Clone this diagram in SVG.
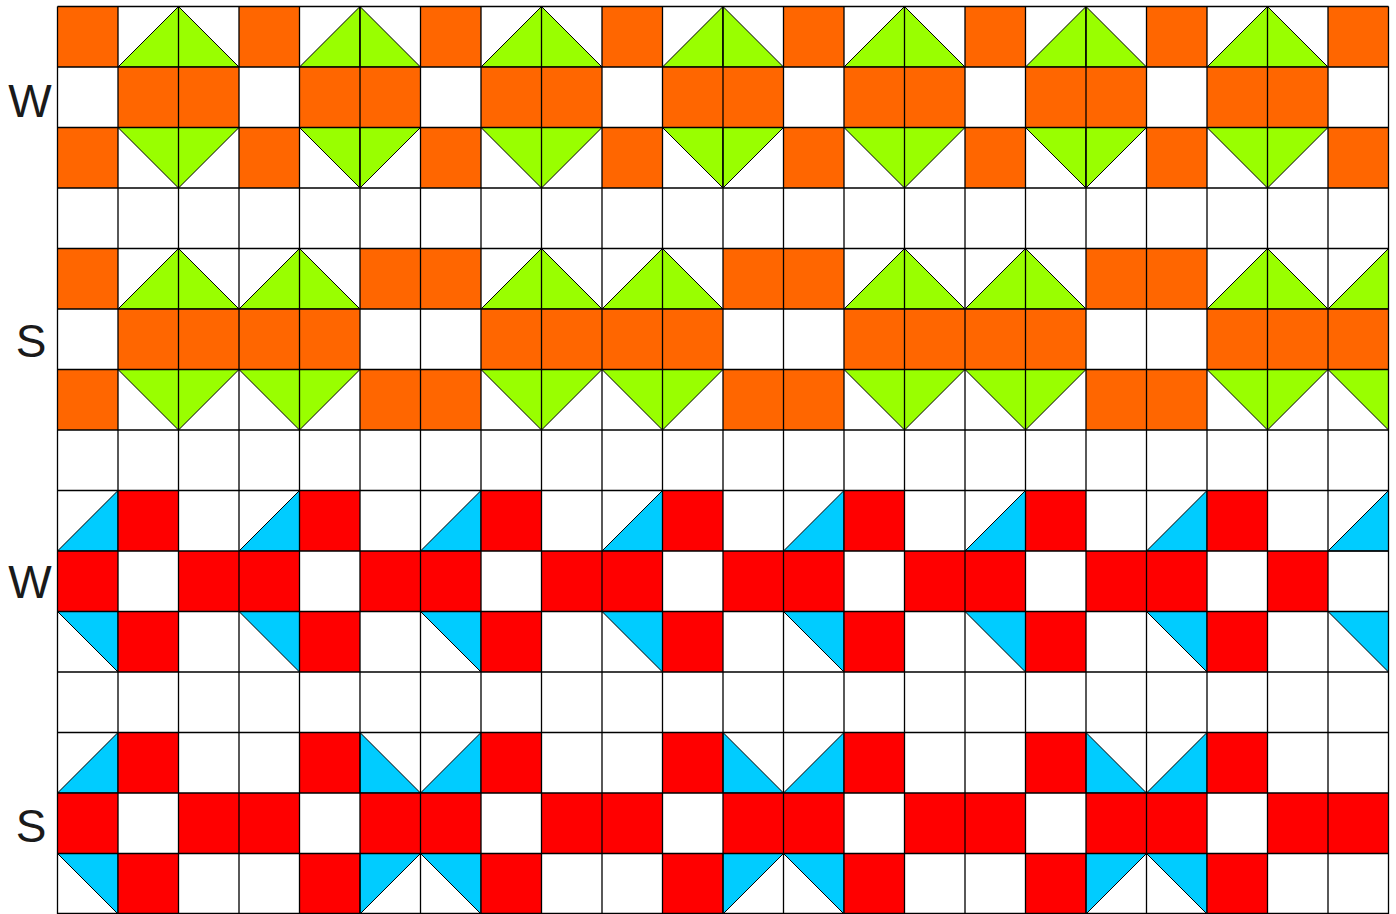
<svg xmlns="http://www.w3.org/2000/svg" xmlns:xlink="http://www.w3.org/1999/xlink" width="1396" height="914" viewBox="0 0 1396 914">
<style>
.o{fill:#FF6600}
.g{fill:#99FF00;stroke:#000;stroke-width:1}
.r{fill:#FF0000}
.b{fill:#00CCFF;stroke:#000;stroke-width:1}
.lbl{font-family:"Liberation Sans",Arial,sans-serif;font-size:46px;fill:#1a1a1a;text-anchor:middle}
.grid{fill:none;stroke:#000;stroke-width:1.3}
</style>
<defs>
<g id="A0"><rect class="o" x="0" y="0" width="60.5" height="60.5"/><rect class="o" x="0" y="121" width="60.5" height="60.5"/></g>
<g id="A1"><polygon class="g" points="0,60.5 60.5,0 60.5,60.5"/><rect class="o" x="0" y="60.5" width="60.5" height="60.5"/><polygon class="g" points="0,121 60.5,121 60.5,181.5"/></g>
<g id="A2"><polygon class="g" points="0,0 0,60.5 60.5,60.5"/><rect class="o" x="0" y="60.5" width="60.5" height="60.5"/><polygon class="g" points="0,121 60.5,121 0,181.5"/></g>
<g id="B0"><polygon class="b" points="0,60.5 60.5,0 60.5,60.5"/><rect class="r" x="0" y="60.5" width="60.5" height="60.5"/><polygon class="b" points="0,121 60.5,121 60.5,181.5"/></g>
<g id="B1"><rect class="r" x="0" y="0" width="60.5" height="60.5"/><rect class="r" x="0" y="121" width="60.5" height="60.5"/></g>
<g id="B2"><rect class="r" x="0" y="60.5" width="60.5" height="60.5"/></g>
<g id="B5"><polygon class="b" points="0,0 0,60.5 60.5,60.5"/><rect class="r" x="0" y="60.5" width="60.5" height="60.5"/><polygon class="b" points="0,121 60.5,121 0,181.5"/></g>
<g id="B0e"><polygon class="b" points="0,60.5 60.5,0 60.5,60.5"/><polygon class="b" points="0,121 60.5,121 60.5,181.5"/></g>
</defs>
<rect x="0" y="0" width="1396" height="914" fill="#fff"/>
<g id="block1">
<use href="#A0" x="57.5" y="6.5"/><use href="#A1" x="118" y="6.5"/><use href="#A2" x="178.5" y="6.5"/>
<use href="#A0" x="239" y="6.5"/><use href="#A1" x="299.5" y="6.5"/><use href="#A2" x="360" y="6.5"/>
<use href="#A0" x="420.5" y="6.5"/><use href="#A1" x="481" y="6.5"/><use href="#A2" x="541.5" y="6.5"/>
<use href="#A0" x="602" y="6.5"/><use href="#A1" x="662.5" y="6.5"/><use href="#A2" x="723" y="6.5"/>
<use href="#A0" x="783.5" y="6.5"/><use href="#A1" x="844" y="6.5"/><use href="#A2" x="904.5" y="6.5"/>
<use href="#A0" x="965" y="6.5"/><use href="#A1" x="1025.5" y="6.5"/><use href="#A2" x="1086" y="6.5"/>
<use href="#A0" x="1146.5" y="6.5"/><use href="#A1" x="1207" y="6.5"/><use href="#A2" x="1267.5" y="6.5"/>
<use href="#A0" x="1328" y="6.5"/>
</g>
<g id="block2">
<use href="#A0" x="57.5" y="248.5"/><use href="#A1" x="118" y="248.5"/><use href="#A2" x="178.5" y="248.5"/>
<use href="#A1" x="239" y="248.5"/><use href="#A2" x="299.5" y="248.5"/><use href="#A0" x="360" y="248.5"/>
<use href="#A0" x="420.5" y="248.5"/><use href="#A1" x="481" y="248.5"/><use href="#A2" x="541.5" y="248.5"/>
<use href="#A1" x="602" y="248.5"/><use href="#A2" x="662.5" y="248.5"/><use href="#A0" x="723" y="248.5"/>
<use href="#A0" x="783.5" y="248.5"/><use href="#A1" x="844" y="248.5"/><use href="#A2" x="904.5" y="248.5"/>
<use href="#A1" x="965" y="248.5"/><use href="#A2" x="1025.5" y="248.5"/><use href="#A0" x="1086" y="248.5"/>
<use href="#A0" x="1146.5" y="248.5"/><use href="#A1" x="1207" y="248.5"/><use href="#A2" x="1267.5" y="248.5"/>
<use href="#A1" x="1328" y="248.5"/>
</g>
<g id="block3">
<use href="#B0" x="57.5" y="490.5"/><use href="#B1" x="118" y="490.5"/><use href="#B2" x="178.5" y="490.5"/>
<use href="#B0" x="239" y="490.5"/><use href="#B1" x="299.5" y="490.5"/><use href="#B2" x="360" y="490.5"/>
<use href="#B0" x="420.5" y="490.5"/><use href="#B1" x="481" y="490.5"/><use href="#B2" x="541.5" y="490.5"/>
<use href="#B0" x="602" y="490.5"/><use href="#B1" x="662.5" y="490.5"/><use href="#B2" x="723" y="490.5"/>
<use href="#B0" x="783.5" y="490.5"/><use href="#B1" x="844" y="490.5"/><use href="#B2" x="904.5" y="490.5"/>
<use href="#B0" x="965" y="490.5"/><use href="#B1" x="1025.5" y="490.5"/><use href="#B2" x="1086" y="490.5"/>
<use href="#B0" x="1146.5" y="490.5"/><use href="#B1" x="1207" y="490.5"/><use href="#B2" x="1267.5" y="490.5"/>
<use href="#B0e" x="1328" y="490.5"/>
</g>
<g id="block4">
<use href="#B0" x="57.5" y="732.5"/><use href="#B1" x="118" y="732.5"/><use href="#B2" x="178.5" y="732.5"/>
<use href="#B2" x="239" y="732.5"/><use href="#B1" x="299.5" y="732.5"/><use href="#B5" x="360" y="732.5"/>
<use href="#B0" x="420.5" y="732.5"/><use href="#B1" x="481" y="732.5"/><use href="#B2" x="541.5" y="732.5"/>
<use href="#B2" x="602" y="732.5"/><use href="#B1" x="662.5" y="732.5"/><use href="#B5" x="723" y="732.5"/>
<use href="#B0" x="783.5" y="732.5"/><use href="#B1" x="844" y="732.5"/><use href="#B2" x="904.5" y="732.5"/>
<use href="#B2" x="965" y="732.5"/><use href="#B1" x="1025.5" y="732.5"/><use href="#B5" x="1086" y="732.5"/>
<use href="#B0" x="1146.5" y="732.5"/><use href="#B1" x="1207" y="732.5"/><use href="#B2" x="1267.5" y="732.5"/>
<use href="#B2" x="1328" y="732.5"/>
</g>
<g id="gridlines">
<path class="grid" d="M57.5 6.5V914M118 6.5V914M178.5 6.5V914M239 6.5V914M299.5 6.5V914M360 6.5V914M420.5 6.5V914M481 6.5V914M541.5 6.5V914M602 6.5V914M662.5 6.5V914M723 6.5V914M783.5 6.5V914M844 6.5V914M904.5 6.5V914M965 6.5V914M1025.5 6.5V914M1086 6.5V914M1146.5 6.5V914M1207 6.5V914M1267.5 6.5V914M1328 6.5V914M1388.5 6.5V914"/>
<path class="grid" d="M57.5 6.5H1388.5M57.5 67H1388.5M57.5 127.5H1388.5M57.5 188H1388.5M57.5 248.5H1388.5M57.5 309H1388.5M57.5 369.5H1388.5M57.5 430H1388.5M57.5 490.5H1388.5M57.5 551H1388.5M57.5 611.5H1388.5M57.5 672H1388.5M57.5 732.5H1388.5M57.5 793H1388.5M57.5 853.5H1388.5M57.5 913.5H1388.5"/>
</g>
<g id="labels">
<text class="lbl" x="30" y="117">W</text>
<text class="lbl" x="31" y="357">S</text>
<text class="lbl" x="30" y="598">W</text>
<text class="lbl" x="31" y="842">S</text>
</g>
</svg>
